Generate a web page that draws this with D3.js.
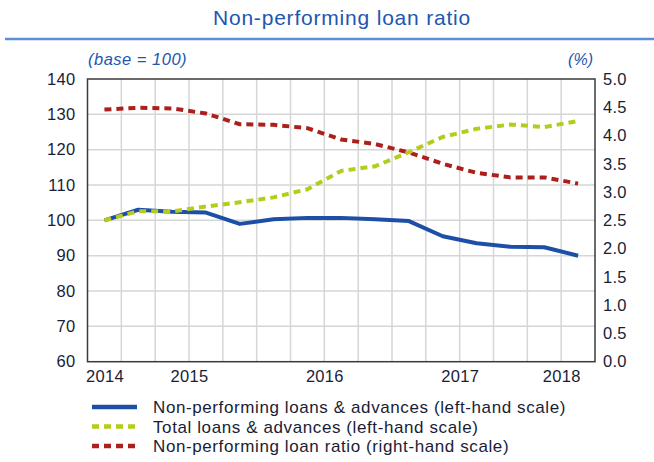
<!DOCTYPE html>
<html>
<head>
<meta charset="utf-8">
<script src="https://cdn.jsdelivr.net/npm/d3@7"></script>
<style>
  body { margin: 0; background: #fff; }
  svg { display: block; font-family: "Liberation Sans", Arial, sans-serif; }
</style>
</head>
<body>
<svg id="chart" width="654" height="462"></svg>
<script>
// quarterly observations, 15 points
var quarters = ["2013Q4", "2014Q1", "2014Q2", "2014Q3", "2014Q4", "2015Q1", "2015Q2", "2015Q3",
  "2015Q4", "2016Q1", "2016Q2", "2016Q3", "2016Q4", "2017Q1", "2017Q2"];
var nplValues = [100, 103, 102.4, 102.2, 99, 100.3, 100.7, 100.7, 100.3, 99.8, 95.5, 93.5, 92.5, 92.4, 90];
var totalValues = [100, 102.6, 102.5, 103.9, 105.1, 106.5, 108.8, 114, 115.3, 119.3, 123.6, 125.9, 127.1, 126.4, 128.1];
var ratioValues = [4.46, 4.49, 4.48, 4.39, 4.2, 4.19, 4.13, 3.93, 3.85, 3.7, 3.5, 3.34, 3.26, 3.26, 3.15];

var yearLabels = ["2014", "2015", "2016", "2017", "2018"];
var yearAt = [0, 2.5, 6.5, 10.5, 13.5]; // in quarter-index units
var leftTicks = [60, 70, 80, 90, 100, 110, 120, 130, 140];
var rightTicks = [0, 0.5, 1, 1.5, 2, 2.5, 3, 3.5, 4, 4.5, 5];

var seriesNames = [
  "Non-performing loans & advances (left-hand scale)",
  "Total loans & advances (left-hand scale)",
  "Non-performing loan ratio (right-hand scale)"
];

var COLORS = { npl: "#1d4fa6", total: "#b5cc1c", ratio: "#ad1f1c", text: "#1a1d36", title: "#2156b0" };

var plot = { left: 87.5, right: 595, top: 79, bottom: 361.7 };

var svg = d3.select("#chart");

// title + rule
svg.append("text")
  .attr("x", 342)
  .attr("y", 25)
  .attr("text-anchor", "middle")
  .attr("fill", COLORS.title)
  .style("font-size", "21px")
  .style("letter-spacing", "0.8px")
  .text("Non-performing loan ratio");

svg.append("line")
  .attr("x1", 5).attr("x2", 654)
  .attr("y1", 39).attr("y2", 39)
  .attr("stroke", "#5d8fd3")
  .attr("stroke-width", 2.5);

var x = d3.scaleLinear()
  .domain([-0.5, quarters.length - 0.5])
  .range([plot.left, plot.right]);

var yLeft = d3.scaleLinear().domain([60, 140]).range([plot.bottom, plot.top]);
var yRight = d3.scaleLinear().domain([0, 5]).range([plot.bottom, plot.top]);

var g = svg.append("g");

// grid: vertical lines at quarter boundaries
var boundaries = d3.range(0.5, quarters.length - 0.5, 1);
g.selectAll(".vgrid")
  .data(boundaries)
  .enter().append("line")
  .attr("x1", d => x(d)).attr("x2", d => x(d))
  .attr("y1", plot.top).attr("y2", plot.bottom)
  .attr("stroke", "#d6d6d6")
  .attr("stroke-width", 1.5);

g.selectAll(".hgrid")
  .data(leftTicks.slice(1, -1))
  .enter().append("line")
  .attr("x1", plot.left).attr("x2", plot.right)
  .attr("y1", d => yLeft(d)).attr("y2", d => yLeft(d))
  .attr("stroke", "#d6d6d6")
  .attr("stroke-width", 1.5);

// axes (labels only, frame drawn separately)
var leftAxis = d3.axisLeft(yLeft).tickValues(leftTicks).tickSize(0).tickPadding(12);
var rightAxis = d3.axisRight(yRight).tickValues(rightTicks).tickSize(0).tickPadding(8)
  .tickFormat(d3.format(".1f"));
var bottomAxis = d3.axisBottom(x).tickValues(yearAt).tickSize(0).tickPadding(9)
  .tickFormat((d, i) => yearLabels[i]);

function styleAxis(sel) {
  sel.select(".domain").remove();
  sel.selectAll("text")
    .attr("fill", COLORS.text)
    .style("font-size", "16.5px")
    .style("letter-spacing", "0.3px")
    .style("font-family", "'Liberation Sans', Arial, sans-serif");
}

svg.append("g").attr("transform", "translate(" + plot.left + ",0)").call(leftAxis).call(styleAxis);
svg.append("g").attr("transform", "translate(" + plot.right + ",0)").call(rightAxis).call(styleAxis);
svg.append("g").attr("transform", "translate(0," + plot.bottom + ")").call(bottomAxis).call(styleAxis);

svg.append("rect")
  .attr("x", plot.left).attr("y", plot.top)
  .attr("width", plot.right - plot.left)
  .attr("height", plot.bottom - plot.top)
  .attr("fill", "none")
  .attr("stroke", "#3a3a3a")
  .attr("stroke-width", 1.5);

// units
svg.append("text")
  .attr("x", 88).attr("y", 65)
  .attr("fill", COLORS.title)
  .style("font-size", "16.5px")
  .style("font-style", "italic")
  .style("letter-spacing", "0.5px")
  .text("(base = 100)");

svg.append("text")
  .attr("x", 593).attr("y", 65)
  .attr("text-anchor", "end")
  .attr("fill", COLORS.title)
  .style("font-size", "16px")
  .style("font-style", "italic")
  .text("(%)");

// lines
var lineLeft = d3.line().x((d, i) => x(i)).y(d => yLeft(d));
var lineRight = d3.line().x((d, i) => x(i)).y(d => yRight(d));

svg.append("path")
  .datum(ratioValues)
  .attr("d", lineRight)
  .attr("fill", "none")
  .attr("stroke", COLORS.ratio)
  .attr("stroke-width", 4)
  .attr("stroke-dasharray", "7,5");

svg.append("path")
  .datum(nplValues)
  .attr("d", lineLeft)
  .attr("fill", "none")
  .attr("stroke", COLORS.npl)
  .attr("stroke-width", 4)
  .attr("stroke-linejoin", "round");

svg.append("path")
  .datum(totalValues)
  .attr("d", lineLeft)
  .attr("fill", "none")
  .attr("stroke", COLORS.total)
  .attr("stroke-width", 4)
  .attr("stroke-dasharray", "7,5");

// legend
var legendStyles = [
  { color: COLORS.npl, dash: null },
  { color: COLORS.total, dash: "7,5" },
  { color: COLORS.ratio, dash: "7,5" }
];

var legend = svg.append("g").attr("transform", "translate(92,407)");
var rows = legend.selectAll(".row")
  .data(seriesNames)
  .enter().append("g")
  .attr("transform", (d, i) => "translate(0," + (i * 19.5) + ")");

rows.append("line")
  .attr("x1", 0).attr("x2", 45)
  .attr("y1", 0).attr("y2", 0)
  .attr("stroke", (d, i) => legendStyles[i].color)
  .attr("stroke-width", 4.5)
  .attr("stroke-dasharray", (d, i) => legendStyles[i].dash);

rows.append("text")
  .attr("x", 61).attr("y", 6)
  .attr("fill", COLORS.text)
  .style("font-size", "17px")
  .style("letter-spacing", "0.6px")
  .text(d => d);
</script>
</body>
</html>
